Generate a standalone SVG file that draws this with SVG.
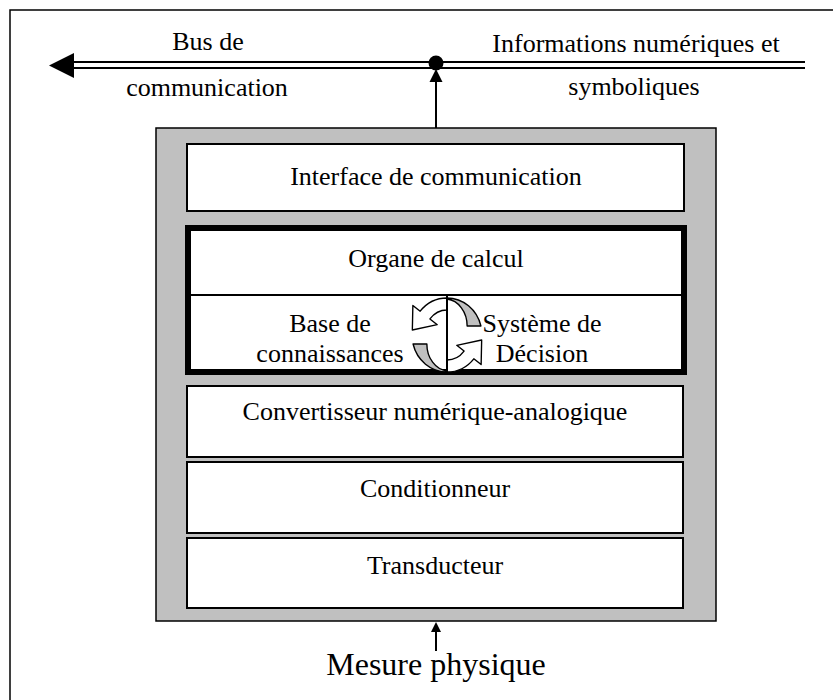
<svg xmlns="http://www.w3.org/2000/svg" width="833" height="700" viewBox="0 0 833 700">
<defs>
<style>
.t{font-family:"Liberation Serif","Times New Roman",serif;font-size:26px;fill:#000;text-anchor:middle}
.box{fill:#fff;stroke:#000;stroke-width:2}
.bus{stroke:#000;stroke-width:2;fill:none}
.arr{stroke:#000;stroke-width:1.3;stroke-linejoin:round}
</style>
</defs>
<rect width="833" height="700" fill="#fff"/>
<g id="frame"><rect x="10" y="10" width="900" height="800" fill="none" stroke="#000" stroke-width="1.5"/></g>

<g id="capteur">
<rect x="156" y="128" width="560" height="493" fill="#c0c0c0" stroke="#000" stroke-width="1.5"/>
</g>

<g id="interface">
<rect class="box" x="187" y="144" width="497" height="67"/>
<text class="t" x="436" y="185">Interface de communication</text>
</g>

<g id="organe">
<rect x="188" y="228" width="496" height="144" fill="#fff" stroke="#000" stroke-width="6"/>
<line x1="191" y1="295" x2="681" y2="295" stroke="#000" stroke-width="2"/>
<text class="t" x="436" y="267">Organe de calcul</text>
<text class="t" x="330" y="332">Base de</text>
<text class="t" x="330" y="362">connaissances</text>
<text class="t" x="542" y="332">Système de</text>
<text class="t" x="542" y="362">Décision</text>
<g id="cycle">
<g transform="translate(447 335) scale(1.06 1) translate(-447 -336)">
<g id="cycle-top">
<path class="arr" fill="#c0c0c0" d="M447,299 A33,37 0 0 1 479,327 L466,327 A21,27 0 0 0 447,300 Z"/>
<path class="arr" fill="#fff" d="M447,299 A33,37 0 0 0 421.7,312.2 L414.8,306.4 L414.3,331 L437.8,325.7 L430.9,319.9 A21,25 0 0 1 447,311 Z"/>
</g>
<g id="cycle-bottom" transform="rotate(180 447 336)">
<path class="arr" fill="#c0c0c0" d="M447,299 A33,37 0 0 1 479,327 L466,327 A21,27 0 0 0 447,300 Z"/>
<path class="arr" fill="#fff" d="M447,299 A33,37 0 0 0 421.7,312.2 L414.8,306.4 L414.3,331 L437.8,325.7 L430.9,319.9 A21,25 0 0 1 447,311 Z"/>
</g>
</g>
<line x1="447" y1="295" x2="447" y2="372" stroke="#000" stroke-width="2"/>
</g>
</g>

<g id="convertisseur">
<rect class="box" x="187" y="386" width="496" height="71"/>
<text class="t" x="435" y="420">Convertisseur numérique-analogique</text>
</g>
<g id="conditionneur">
<rect class="box" x="187" y="462" width="496" height="71"/>
<text class="t" x="435" y="497">Conditionneur</text>
</g>
<g id="transducteur">
<rect class="box" x="187" y="538" width="496" height="70"/>
<text class="t" x="435" y="574">Transducteur</text>
</g>

<g id="connectors">
<line class="bus" x1="70" y1="62" x2="805" y2="62"/>
<line class="bus" x1="70" y1="68" x2="805" y2="68"/>
<polygon points="49,65.5 74,53 74,78" fill="#000"/>
<circle cx="436" cy="63" r="7.5" fill="#000"/>
<line x1="436" y1="80" x2="436" y2="128" stroke="#000" stroke-width="2"/>
<polygon points="436,69 429.5,82 442.5,82" fill="#000"/>
<line x1="436" y1="630" x2="436" y2="651" stroke="#000" stroke-width="2"/>
<polygon points="436,622 431,632 441,632" fill="#000"/>
</g>

<g id="labels">
<text class="t" x="208" y="50">Bus de</text>
<text class="t" x="207" y="96">communication</text>
<text class="t" x="636" y="52">Informations numériques et</text>
<text class="t" x="634" y="95">symboliques</text>
<text class="t" x="436" y="675" style="font-size:32px">Mesure physique</text>
</g>
</svg>
